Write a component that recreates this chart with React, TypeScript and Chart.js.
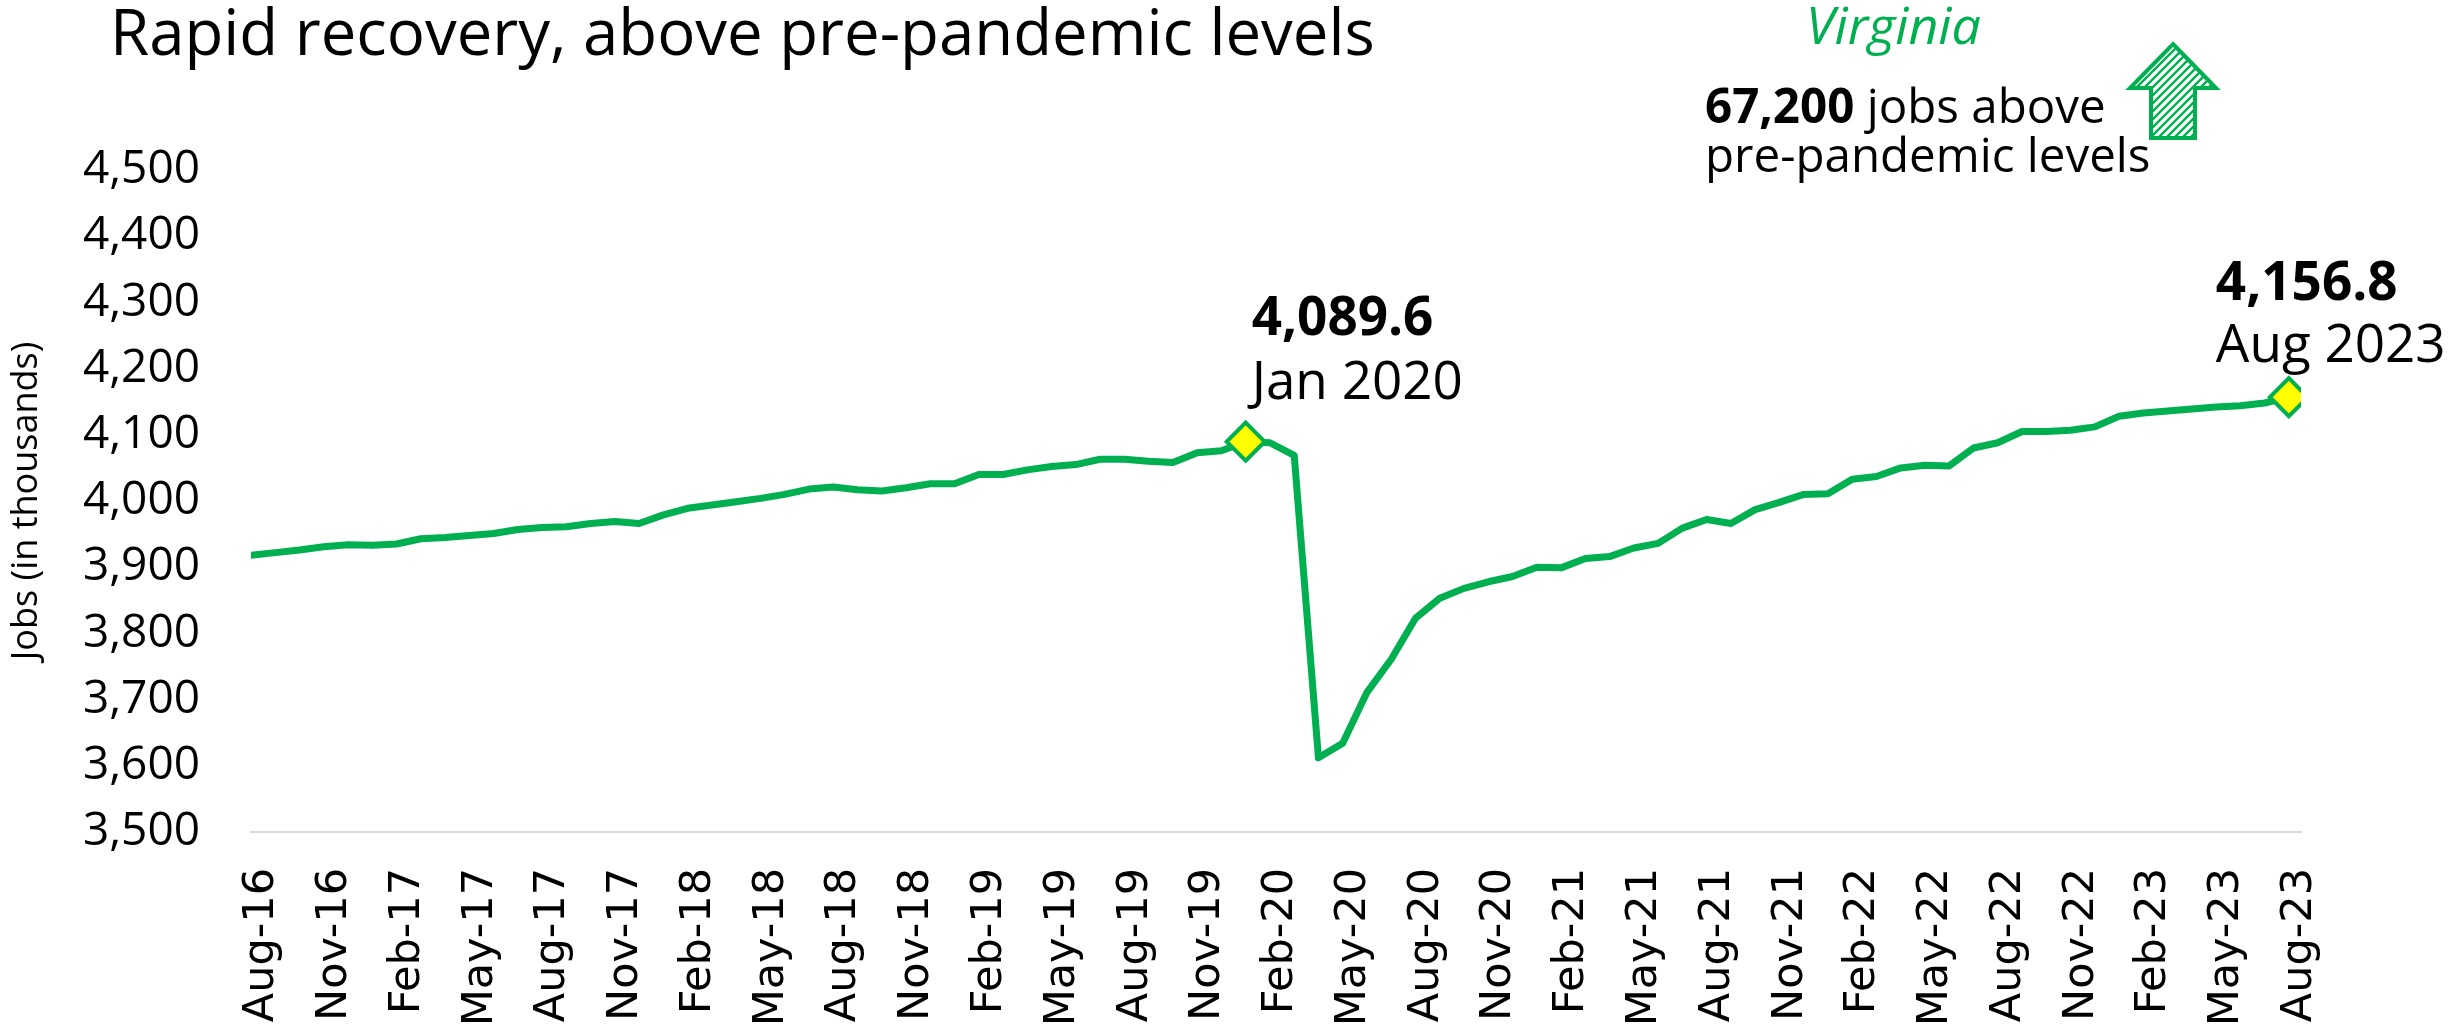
import React, { useEffect, useRef } from "react";
import { Chart, registerables } from "chart.js";

Chart.register(...registerables);

// ---------------- DATA ----------------
const months = [
  "Aug-16", "Sep-16", "Oct-16", "Nov-16", "Dec-16",
  "Jan-17", "Feb-17", "Mar-17", "Apr-17", "May-17", "Jun-17", "Jul-17", "Aug-17", "Sep-17", "Oct-17", "Nov-17", "Dec-17",
  "Jan-18", "Feb-18", "Mar-18", "Apr-18", "May-18", "Jun-18", "Jul-18", "Aug-18", "Sep-18", "Oct-18", "Nov-18", "Dec-18",
  "Jan-19", "Feb-19", "Mar-19", "Apr-19", "May-19", "Jun-19", "Jul-19", "Aug-19", "Sep-19", "Oct-19", "Nov-19", "Dec-19",
  "Jan-20", "Feb-20", "Mar-20", "Apr-20", "May-20", "Jun-20", "Jul-20", "Aug-20", "Sep-20", "Oct-20", "Nov-20", "Dec-20",
  "Jan-21", "Feb-21", "Mar-21", "Apr-21", "May-21", "Jun-21", "Jul-21", "Aug-21", "Sep-21", "Oct-21", "Nov-21", "Dec-21",
  "Jan-22", "Feb-22", "Mar-22", "Apr-22", "May-22", "Jun-22", "Jul-22", "Aug-22", "Sep-22", "Oct-22", "Nov-22", "Dec-22",
  "Jan-23", "Feb-23", "Mar-23", "Apr-23", "May-23", "Jun-23", "Jul-23", "Aug-23",
];

// Virginia total nonfarm jobs (thousands)
const jobs = [
  3918, 3922, 3926, 3931, 3934,
  3933, 3935, 3943, 3945, 3948, 3951, 3957, 3960, 3961, 3966, 3969, 3966,
  3979, 3989, 3994, 3999, 4004, 4010, 4018, 4021, 4017, 4015, 4020, 4026,
  4026, 4040, 4040, 4047, 4052, 4055, 4063, 4063, 4060, 4058, 4073, 4076,
  4089.6, 4088, 4069, 3612, 3634, 3711, 3761, 3823, 3853, 3868, 3878, 3886,
  3900, 3899, 3913, 3916, 3929, 3936, 3959, 3972, 3966, 3987, 3998, 4010,
  4011, 4033, 4037, 4050, 4054, 4053, 4080, 4088, 4105, 4105, 4107, 4112,
  4128, 4133, 4136, 4139, 4142, 4144, 4148, 4156.8,
];

const tickLabels = [
  "Aug-16", "Nov-16", "Feb-17", "May-17", "Aug-17", "Nov-17", "Feb-18", "May-18", "Aug-18", "Nov-18",
  "Feb-19", "May-19", "Aug-19", "Nov-19", "Feb-20", "May-20", "Aug-20", "Nov-20", "Feb-21", "May-21",
  "Aug-21", "Nov-21", "Feb-22", "May-22", "Aug-22", "Nov-22", "Feb-23", "May-23", "Aug-23",
];

const yMin = 3500;
const yMax = 4500;
const yStep = 100;

const highlightMonths = ["Jan-20", "Aug-23"];
const highlightValues = ["4,089.6", "4,156.8"];
const highlightDates = ["Jan 2020", "Aug 2023"];

const subtitle = "Rapid recovery, above pre-pandemic levels";
const yTitle = "Jobs (in thousands)";
const stateName = "Virginia";
const jobsAboveBold = "67,200";
const jobsAboveRest = " jobs above";
const jobsAboveLine2 = "pre-pandemic levels";

// ---------------- STYLE ----------------
const GREEN = "#00B050";
const W = 2464;
const H = 1030;
// per-highlight text offsets relative to the marker (dx, baseline dy of value, baseline dy of date)
const highlightOffsets = [
  { dx: 6, dyValue: -107, dyDate: -43 },
  { dx: -73, dyValue: -97, dyDate: -35 },
];

function makeHatch(): CanvasPattern | string {
  const c = document.createElement("canvas");
  c.width = 8;
  c.height = 8;
  const g = c.getContext("2d");
  if (!g) return GREEN;
  g.fillStyle = "#ffffff";
  g.fillRect(0, 0, 8, 8);
  g.strokeStyle = GREEN;
  g.lineWidth = 2.4;
  g.beginPath();
  g.moveTo(-2, 10);
  g.lineTo(10, -2);
  g.moveTo(-6, 6);
  g.lineTo(6, -6);
  g.moveTo(2, 14);
  g.lineTo(14, 2);
  g.stroke();
  const ctx = document.createElement("canvas").getContext("2d");
  return ctx ? (ctx.createPattern(c, "repeat") as CanvasPattern) : GREEN;
}

const overlayPlugin = {
  id: "overlay",
  afterDraw(chart: any) {
    const ctx: CanvasRenderingContext2D = chart.ctx;
    const xs = chart.scales.x;
    const ys = chart.scales.y;
    ctx.save();
    ctx.textAlign = "left";
    ctx.textBaseline = "alphabetic";

    // subtitle
    ctx.fillStyle = "#000";
    ctx.font = "63.5px 'Open Sans'";
    ctx.fillText(subtitle, 110, 55);

    // highlight annotations
    highlightMonths.forEach((m, k) => {
      const i = months.indexOf(m);
      const px = xs.getPixelForValue(i);
      const py = ys.getPixelForValue(jobs[i]);
      const o = highlightOffsets[k];
      ctx.fillStyle = "#000";
      ctx.font = "bold 53px 'Open Sans'";
      ctx.fillText(highlightValues[k], px + o.dx, py + o.dyValue);
      ctx.font = "53px 'Open Sans'";
      ctx.fillText(highlightDates[k], px + o.dx, py + o.dyDate);
    });

    // top-right callout
    ctx.fillStyle = GREEN;
    ctx.font = "italic 52px 'Open Sans'";
    ctx.fillText(stateName, 1806, 44);

    ctx.fillStyle = "#000";
    ctx.font = "bold 47.5px 'Open Sans'";
    ctx.fillText(jobsAboveBold, 1705, 123);
    const bw = ctx.measureText(jobsAboveBold).width;
    ctx.font = "47.5px 'Open Sans'";
    ctx.fillText(jobsAboveRest, 1705 + bw, 123);
    ctx.fillText(jobsAboveLine2, 1705, 172);

    // arrow
    const tipX = 2173, tipY = 44, headL = 2130, headR = 2216, headY = 88;
    const shL = 2151, shR = 2195, bot = 138;
    ctx.beginPath();
    ctx.moveTo(tipX, tipY);
    ctx.lineTo(headR, headY);
    ctx.lineTo(shR, headY);
    ctx.lineTo(shR, bot);
    ctx.lineTo(shL, bot);
    ctx.lineTo(shL, headY);
    ctx.lineTo(headL, headY);
    ctx.closePath();
    ctx.fillStyle = makeHatch();
    ctx.fill();
    ctx.lineWidth = 4;
    ctx.lineJoin = "miter";
    ctx.strokeStyle = GREEN;
    ctx.stroke();

    ctx.restore();
  },
};

export default function App() {
  const ref = useRef<HTMLCanvasElement | null>(null);

  useEffect(() => {
    if (!ref.current) return;
    const hiIdx = highlightMonths.map((m) => months.indexOf(m));
    const chart = new Chart(ref.current, {
      type: "line",
      data: {
        datasets: [
          {
            data: jobs.map((v, i) => ({ x: i, y: v })),
            borderColor: GREEN,
            borderWidth: 7,
            borderCapStyle: "round",
            borderJoinStyle: "round",
            tension: 0,
            fill: false,
            pointStyle: "rectRot",
            pointRadius: (c: any) => (hiIdx.includes(c.dataIndex) ? 19 : 0),
            pointBackgroundColor: "#FFFF00",
            pointBorderColor: GREEN,
            pointBorderWidth: 4,
          } as any,
        ],
      },
      options: {
        animation: false,
        responsive: false,
        devicePixelRatio: 1,
        events: [],
        layout: { padding: { left: 0, right: 163, top: 170, bottom: 0 } },
        plugins: {
          legend: { display: false },
          tooltip: { enabled: false },
          title: { display: false },
        },
        scales: {
          x: {
            type: "linear",
            min: 0,
            max: months.length - 0.5,
            bounds: "data",
            grid: { display: false, drawTicks: false },
            border: { display: true, color: "#D9D9D9", width: 2 },
            afterBuildTicks: (s: any) => {
              s.ticks = tickLabels.map((l) => ({ value: months.indexOf(l) }));
            },
            afterFit: (s: any) => {
              s.height = 198;
            },
            ticks: {
              autoSkip: false,
              minRotation: 90,
              maxRotation: 90,
              padding: 36,
              labelOffset: 11,
              color: "#000",
              font: { family: "'DejaVu Sans'", size: 43 },
              callback: (v: any) => months[v as number] ?? "",
            },
          },
          y: {
            min: yMin,
            max: yMax,
            grid: { display: false, drawTicks: false },
            border: { display: false },
            afterFit: (s: any) => {
              s.width = 251;
            },
            ticks: {
              stepSize: yStep,
              padding: 51,
              color: "#000",
              font: { family: "'Open Sans'", size: 46 },
              callback: (v: any) => Number(v).toLocaleString("en-US"),
            },
            title: {
              display: true,
              text: yTitle,
              color: "#000",
              font: { family: "'Open Sans'", size: 36 },
              padding: { top: 5, bottom: 0 },
            },
          },
        },
      } as any,
      plugins: [overlayPlugin],
    });
    return () => chart.destroy();
  }, []);

  return (
    <div style={{ position: "absolute", left: 0, top: 0, width: W, height: H, background: "#fff" }}>
      <canvas ref={ref} width={W} height={H} style={{ width: W, height: H, display: "block" }} />
    </div>
  );
}
